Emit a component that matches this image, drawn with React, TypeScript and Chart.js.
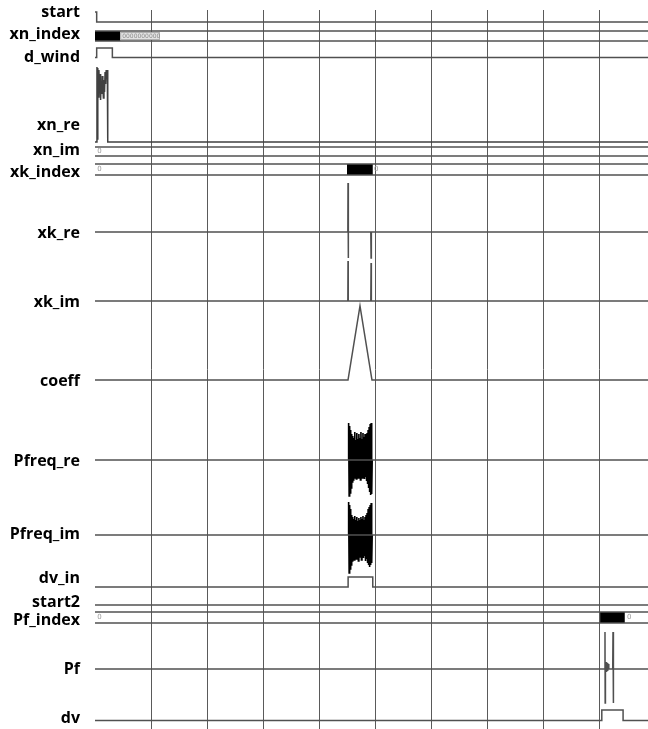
import React, { useEffect, useRef } from 'react';
import { Chart, registerables } from 'chart.js';
Chart.register(...registerables);

// ---- time span (in grid divisions) ----
const T_END = 9.875;
const gridTicks = [0, 1, 2, 3, 4, 5, 6, 7, 8, 9];

// ---- signal names (row labels) ----
const signalNames = ['start', 'xn_index', 'd_wind', 'xn_re', 'xn_im', 'xk_index', 'xk_re', 'xk_im', 'coeff', 'Pfreq_re', 'Pfreq_im', 'dv_in', 'start2', 'Pf_index', 'Pf', 'dv'];

// ---- digital edge times ----
const startEdges = [0.03];          // starts high
const dWindEdges = [0.03, 0.31];
const dvInEdges = [4.52, 4.96];
const start2Edges: number[] = [];
const dvEdges = [9.05, 9.43];

// ---- bus segments [t0, t1] ----
const xnIndexBusy = [0.0, 0.45];
const xnIndexCount = [0.45, 1.16];
const xkIndexBusy = [4.5, 4.96];
const pfIndexBusy = [9.02, 9.46];
const busValueTimes = [0.04, 0.04, 4.98, 0.04, 9.5];
const busValueLanes = ['xn_im', 'xk_index', 'xk_index', 'Pf_index', 'Pf_index'];
const busValueTexts = ['0', '0', '0', '0', '0'];

// ---- analog signals (heights above baseline) ----
const xnReT = [0.0, 0.03, 0.035, 0.04, 0.05, 0.06, 0.07, 0.08, 0.09, 0.1, 0.11, 0.12, 0.13, 0.14, 0.15, 0.16, 0.17, 0.18, 0.19, 0.2, 0.21, 0.22, 0.225, 0.23];
const xnReV = [0, 0, 75, 3, 74, 45, 72, 50, 68, 42, 60, 48, 66, 55, 44, 62, 50, 70, 58, 72, 64, 72, 0, 0];
const xkReT = [4.515, 4.518, 4.522, 4.526, 4.925, 4.93, 4.935];
const xkReV = [0, 49, -26, 0, 0, -26, 0];
const xkImT = [4.515, 4.518, 4.522, 4.925, 4.93, 4.935];
const xkImV = [0, 40, 0, 0, 38, 0];
const coeffT = [4.518, 4.732, 4.946];
const coeffV = [0, 74, 0];
const pfreqRange = [4.52, 4.95];
const pfreqReV = [0, 37, -36, 34, -33, 30, -28, 26, -22, 24, -20, 22, -18, 28, -16, 20, -19, 27, -15, 21, -18, 26, -14, 22, -20, 28, -16, 21, -18, 27, -15, 23, -19, 26, -17, 24, -21, 27, -24, 30, -28, 33, -32, 36, -35, 37, -34, 0];
const pfreqImV = [0, 33, -38, 30, -34, 26, -30, 20, -26, 18, -22, 16, -25, 19, -20, 15, -24, 18, -21, 14, -26, 17, -19, 15, -22, 18, -25, 16, -20, 19, -23, 15, -21, 18, -26, 20, -24, 22, -28, 26, -30, 28, -32, 30, -30, 32, -28, 0];
const pfT = [9.1, 9.107, 9.11, 9.115, 9.125, 9.135, 9.145, 9.155, 9.165, 9.175, 9.245, 9.25, 9.255, 9.26];
const pfV = [0, 37, -34, 0, 7, -3, 6, -2, 5, 0, 0, 37, -34, 0];

// ---- layout (row positions in the vertical axis) ----
const labelRows = [12, 34, 57, 125, 150, 172, 233, 302, 381, 461, 534, 578, 602, 620, 669, 718];
const lanes: Record<string, { low: number; high: number }> = {
  start: { low: 22, high: 12 },
  xn_index: { low: 41, high: 31 },
  d_wind: { low: 57.5, high: 48 },
  xn_re: { low: 142, high: 67 },
  xn_im: { low: 156, high: 147 },
  xk_index: { low: 175, high: 164 },
  xk_re: { low: 232, high: 183 },
  xk_im: { low: 301, high: 261 },
  coeff: { low: 380, high: 306 },
  Pfreq_re: { low: 460, high: 423 },
  Pfreq_im: { low: 535, high: 500 },
  dv_in: { low: 587, high: 577 },
  start2: { low: 605, high: 596 },
  Pf_index: { low: 623, high: 612 },
  Pf: { low: 669, high: 632 },
  dv: { low: 720.5, high: 710 },
};

const LINE = '#505050';

function digital(edges: number[], startHigh: boolean, lane: string) {
  const { low, high } = lanes[lane];
  let lv = startHigh;
  const pts = [{ x: 0, y: lv ? high : low }];
  for (const e of edges) {
    pts.push({ x: e, y: lv ? high : low });
    lv = !lv;
    pts.push({ x: e, y: lv ? high : low });
  }
  pts.push({ x: T_END, y: lv ? high : low });
  return pts;
}

function analog(ts: number[], vs: number[], lane: string) {
  const base = lanes[lane].low;
  return [{ x: 0, y: base }, ...ts.map((t, i) => ({ x: t, y: base - vs[i] })), { x: T_END, y: base }];
}

function sampled(range: number[], vs: number[], lane: string) {
  const base = lanes[lane].low;
  const step = (range[1] - range[0]) / (vs.length - 1);
  return vs.map((v, i) => ({ x: range[0] + i * step, y: base - v }));
}

function flat(lane: string, which: 'low' | 'high') {
  const y = lanes[lane][which];
  return [{ x: 0, y }, { x: T_END, y }];
}

function seg(range: number[], lane: string) {
  const y = (lanes[lane].low + lanes[lane].high) / 2;
  return [{ x: range[0], y }, { x: range[1], y }];
}

const ds = (data: any[], color = LINE, width = 1.5) => ({
  type: 'line' as const,
  data,
  borderColor: color,
  borderWidth: width,
  pointRadius: 0,
  tension: 0,
  fill: false,
  clip: 12,
  borderCapStyle: 'butt' as const,
  borderJoinStyle: 'miter' as const,
});

const busTextPlugin = {
  id: 'busText',
  afterDatasetsDraw(chart: any) {
    const { ctx, scales } = chart;
    const xs = scales.x;
    const ys = scales.y;
    ctx.save();
    const l = lanes['xn_index'];
    const x0 = xs.getPixelForValue(xnIndexCount[0]);
    const x1 = xs.getPixelForValue(xnIndexCount[1]);
    const yT = ys.getPixelForValue(l.high);
    const yB = ys.getPixelForValue(l.low);
    ctx.fillStyle = '#e2e2e2';
    ctx.fillRect(x0, yT + 1, x1 - x0, yB - yT - 2);
    ctx.strokeStyle = '#b0b0b0';
    ctx.lineWidth = 1;
    ctx.strokeRect(x0 + 0.5, yT + 1.5, x1 - x0 - 1, yB - yT - 3);
    ctx.fillStyle = '#8a8a8a';
    ctx.font = '6px "DejaVu Sans"';
    ctx.textBaseline = 'middle';
    ctx.textAlign = 'left';
    ctx.fillText('0000000000', x0 + 2, (yT + yB) / 2);
    ctx.font = '7px "DejaVu Sans"';
    ctx.fillStyle = '#9a9a9a';
    busValueTimes.forEach((t, i) => {
      const ln = lanes[busValueLanes[i]];
      ctx.fillText(busValueTexts[i], xs.getPixelForValue(t), ys.getPixelForValue((ln.low + ln.high) / 2));
    });
    ctx.restore();
  },
};

export default function App() {
  const ref = useRef<HTMLCanvasElement>(null);
  useEffect(() => {
    document.body.style.margin = '0';
    const datasets: any[] = [
      ds(digital(startEdges, true, 'start')),
      ds(flat('xn_index', 'high')),
      ds(flat('xn_index', 'low')),
      ds(seg(xnIndexBusy, 'xn_index'), '#000', 10),
      ds(digital(dWindEdges, false, 'd_wind')),
      ds(analog(xnReT, xnReV, 'xn_re'), '#404040', 1.5),
      ds(flat('xn_im', 'high')),
      ds(flat('xn_im', 'low')),
      ds(flat('xk_index', 'high')),
      ds(flat('xk_index', 'low')),
      ds(seg(xkIndexBusy, 'xk_index'), '#000', 11),
      ds(analog(xkReT, xkReV, 'xk_re')),
      ds(analog(xkImT, xkImV, 'xk_im')),
      ds(analog(coeffT, coeffV, 'coeff')),
      ds(flat('Pfreq_re', 'low')),
      ds(sampled(pfreqRange, pfreqReV, 'Pfreq_re'), '#000', 1.6),
      ds(flat('Pfreq_im', 'low')),
      ds(sampled(pfreqRange, pfreqImV, 'Pfreq_im'), '#000', 1.6),
      ds(digital(dvInEdges, false, 'dv_in')),
      ds(digital(start2Edges, false, 'start2')),
      ds(flat('Pf_index', 'high')),
      ds(flat('Pf_index', 'low')),
      ds(seg(pfIndexBusy, 'Pf_index'), '#000', 11),
      ds(analog(pfT, pfV, 'Pf')),
      ds(digital(dvEdges, false, 'dv')),
    ];
    const chart = new Chart(ref.current!, {
      type: 'line',
      data: { datasets },
      plugins: [busTextPlugin],
      options: {
        animation: false,
        responsive: false,
        layout: { padding: { top: 10, left: 0, right: 0, bottom: 0 } },
        plugins: { legend: { display: false }, tooltip: { enabled: false } },
        scales: {
          x: {
            type: 'linear',
            min: 0,
            max: T_END,
            afterBuildTicks: (s: any) => { s.ticks = gridTicks.map((v) => ({ value: v })); },
            afterFit: (s: any) => { s.height = 0; s.paddingLeft = 0; s.paddingRight = 0; s.paddingTop = 0; s.paddingBottom = 0; },
            ticks: { display: false },
            border: { display: false },
            grid: {
              drawTicks: false,
              lineWidth: 1,
              color: (c: any) => (c.tick && c.tick.value === 0 ? 'rgba(0,0,0,0)' : '#5a5a5a'),
            },
          },
          y: {
            type: 'linear',
            min: 10,
            max: 729,
            reverse: true,
            afterBuildTicks: (s: any) => { s.ticks = labelRows.map((v) => ({ value: v })); },
            afterFit: (s: any) => { s.width = 95; s.paddingTop = 0; s.paddingBottom = 0; s.paddingLeft = 0; s.paddingRight = 0; },
            border: { display: false },
            grid: { display: false },
            ticks: {
              autoSkip: false,
              padding: 7,
              color: '#000',
              font: { family: '"Open Sans"', weight: 'bold', size: 16 },
              callback: (_v: any, i: number) => signalNames[i],
            },
          },
        },
      },
    });
    return () => chart.destroy();
  }, []);
  return (
    <div style={{ width: 648, height: 729 }}>
      <canvas ref={ref} width={648} height={729} style={{ display: 'block' }} />
    </div>
  );
}
